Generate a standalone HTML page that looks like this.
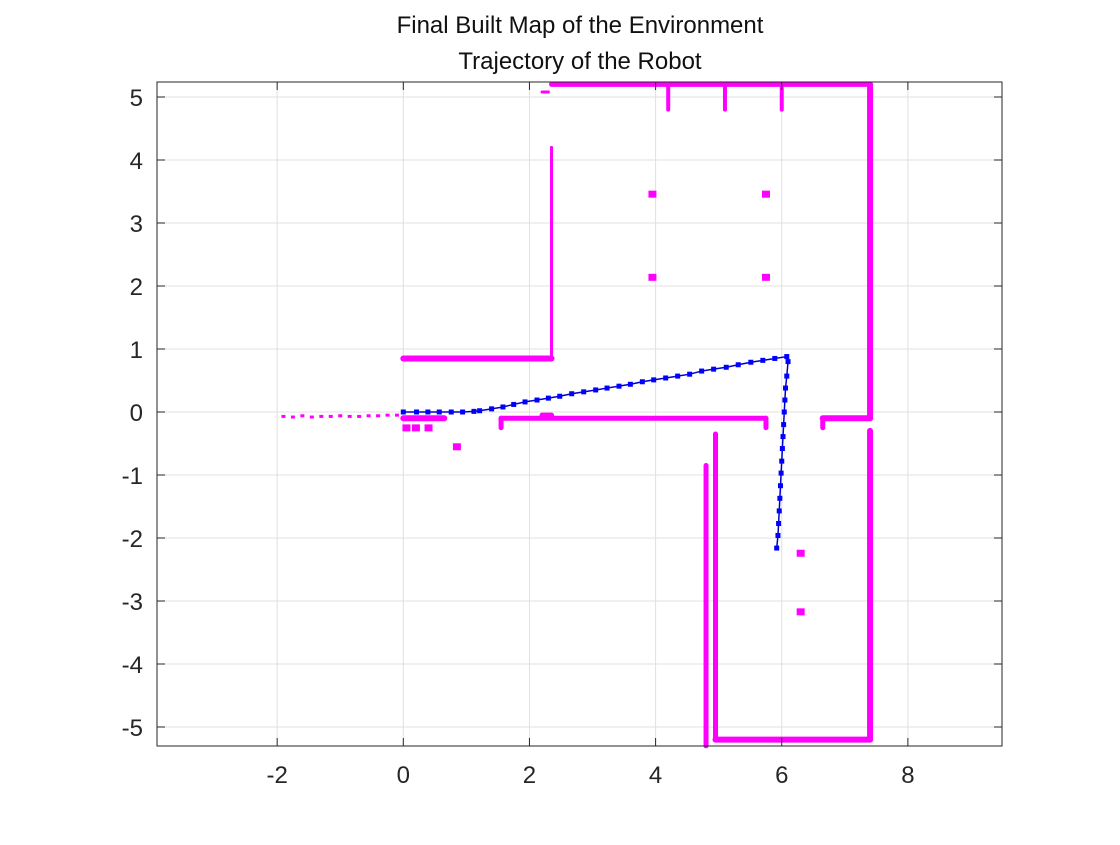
<!DOCTYPE html>
<html><head><meta charset="utf-8"><style>
html,body{margin:0;padding:0;background:#fff;}
svg text{font-family:"Liberation Sans",Arial,sans-serif;}
</style></head><body>
<svg id="chart" width="1120" height="840" xmlns="http://www.w3.org/2000/svg">
<rect width="1120" height="840" fill="#fff"/>
<text x="580" y="33" font-size="24" text-anchor="middle" fill="#111">Final Built Map of the Environment</text>
<text x="580" y="69" font-size="24" text-anchor="middle" fill="#111">Trajectory of the Robot</text>
<g id="grid"></g><g id="map"></g><g id="traj"></g><g id="axes"></g>
</svg>
<script>
const xTicks=[-2,0,2,4,6,8];
const yTicks=[-5,-4,-3,-2,-1,0,1,2,3,4,5];
const xLabels=["-2","0","2","4","6","8"];
const yLabels=["-5","-4","-3","-2","-1","0","1","2","3","4","5"];
// walls: [x1,y1,x2,y2,widthUnits]
const wallX1=[2.35,7.4,4.2,5.1,6.0,2.35,0,1.55,2.2,0,1.55,5.75,6.65,6.65,7.4,4.95,4.95,4.8,2.2];
const wallY1=[5.2,5.2,5.2,5.2,5.2,4.2,0.85,-0.1,-0.05,-0.1,-0.1,-0.1,-0.1,-0.1,-0.3,-5.2,-0.35,-0.85,5.08];
const wallX2=[7.4,7.4,4.2,5.1,6.0,2.35,2.35,5.75,2.35,0.65,1.55,5.75,7.4,6.65,7.4,7.4,4.95,4.8,2.3];
const wallY2=[5.2,-0.1,4.8,4.8,4.8,0.85,0.85,-0.1,-0.05,-0.1,-0.25,-0.25,-0.1,-0.25,-5.2,-5.2,-5.2,-5.3,5.08];
const wallW=[5,6,4,4,4,3,6,5,5,6,5,5,6,5,6,6,5,5,3];
// small blobs: centers
const blobX=[3.95,5.75,3.95,5.75,6.3,6.3,0.85,0.05,0.2,0.4];
const blobY=[3.45,3.45,2.13,2.13,-2.25,-3.18,-0.56,-0.26,-0.26,-0.26];
const scatterX=[-1.9,-1.75,-1.6,-1.45,-1.3,-1.15,-1.0,-0.85,-0.7,-0.55,-0.4,-0.25,-0.1];
const scatterY=[-0.07,-0.08,-0.06,-0.08,-0.07,-0.07,-0.06,-0.07,-0.07,-0.06,-0.06,-0.05,-0.05];
const trajX=[0,0.21,0.39,0.57,0.76,0.94,1.12,1.21,1.40,1.58,1.75,1.93,2.12,2.30,2.48,2.67,2.86,3.05,3.23,3.42,3.60,3.79,3.97,4.16,4.35,4.54,4.73,4.92,5.12,5.31,5.51,5.70,5.89,6.08,6.10,6.08,6.06,6.05,6.04,6.03,6.02,6.01,6.00,5.99,5.98,5.97,5.96,5.95,5.94,5.92];
const trajY=[0,0,0,0,0,0,0.01,0.02,0.05,0.08,0.12,0.16,0.19,0.22,0.25,0.29,0.32,0.35,0.38,0.41,0.44,0.48,0.51,0.54,0.57,0.60,0.65,0.68,0.71,0.75,0.79,0.82,0.85,0.88,0.80,0.57,0.38,0.19,0,-0.2,-0.39,-0.58,-0.78,-0.97,-1.17,-1.37,-1.57,-1.77,-1.96,-2.16];

const L=157,R=1002,T=82,B=746;
const X0=-3.905,X1=(R-404)/63,Y0=-(B-412)/63,Y1=(412-T)/63;
const sx=v=>L+(v-X0)/(X1-X0)*(R-L);
const sy=v=>B-(v-Y0)/(Y1-Y0)*(B-T);
const NS="http://www.w3.org/2000/svg";
function mk(tag,attrs,parent){const e=document.createElementNS(NS,tag);for(const k in attrs)e.setAttribute(k,attrs[k]);parent.appendChild(e);return e;}
const grid=document.getElementById('grid'),map=document.getElementById('map'),traj=document.getElementById('traj'),axes=document.getElementById('axes');
xTicks.forEach((t,i)=>{
 const g=mk('line',{x1:sx(t),x2:sx(t),y1:T,y2:B,stroke:'#e0e0e0','stroke-width':1},grid);
 
 
 mk('line',{x1:sx(t),x2:sx(t),y1:B,y2:B-8,stroke:'#262626','stroke-width':1},axes);
 mk('line',{x1:sx(t),x2:sx(t),y1:T,y2:T+8,stroke:'#262626','stroke-width':1},axes);
 const tx=mk('text',{x:sx(t),y:B+37,'font-size':24,'text-anchor':'middle',fill:'#262626'},axes);
 tx.textContent=xLabels[i];
 
 
});
yTicks.forEach((t,i)=>{
 const g=mk('line',{x1:L,x2:R,y1:sy(t),y2:sy(t),stroke:'#e0e0e0','stroke-width':1},grid);
 
 
 mk('line',{x1:L,x2:L+8,y1:sy(t),y2:sy(t),stroke:'#262626','stroke-width':1},axes);
 mk('line',{x1:R,x2:R-8,y1:sy(t),y2:sy(t),stroke:'#262626','stroke-width':1},axes);
 const tx=mk('text',{x:L-14,y:sy(t)+9,'font-size':24,'text-anchor':'end',fill:'#262626'},axes);
 tx.textContent=yLabels[i];
 
 
});
const box=mk('rect',{x:L,y:T,width:R-L,height:B-T,fill:'none',stroke:'#262626','stroke-width':1},axes);


for(let i=0;i<wallX1.length;i++){
 const w=mk('line',{x1:sx(wallX1[i]),y1:sy(wallY1[i]),x2:sx(wallX2[i]),y2:sy(wallY2[i]),stroke:'#ff00ff','stroke-width':wallW[i],'stroke-linecap':'round'},map);
 
 
}
for(let i=0;i<blobX.length;i++){
 const b=mk('rect',{x:sx(blobX[i])-4,y:sy(blobY[i])-4,width:8,height:7,fill:'#ff00ff'},map);
 
 
}
for(let i=0;i<scatterX.length;i++){
 const s=mk('rect',{x:sx(scatterX[i])-2,y:sy(scatterY[i])-1.5,width:4,height:3,fill:'#ff00ff'},map);
 
 
}
const pts=trajX.map((v,i)=>sx(v)+','+sy(trajY[i])).join(' ');
const pl=mk('polyline',{points:pts,fill:'none',stroke:'#0000cc','stroke-width':1.5},traj);


for(let i=0;i<trajX.length;i++){
 const m=mk('rect',{x:sx(trajX[i])-2.5,y:sy(trajY[i])-2.5,width:5,height:5,fill:'#0000ff'},traj);
 
 
}
</script>
</body></html>
